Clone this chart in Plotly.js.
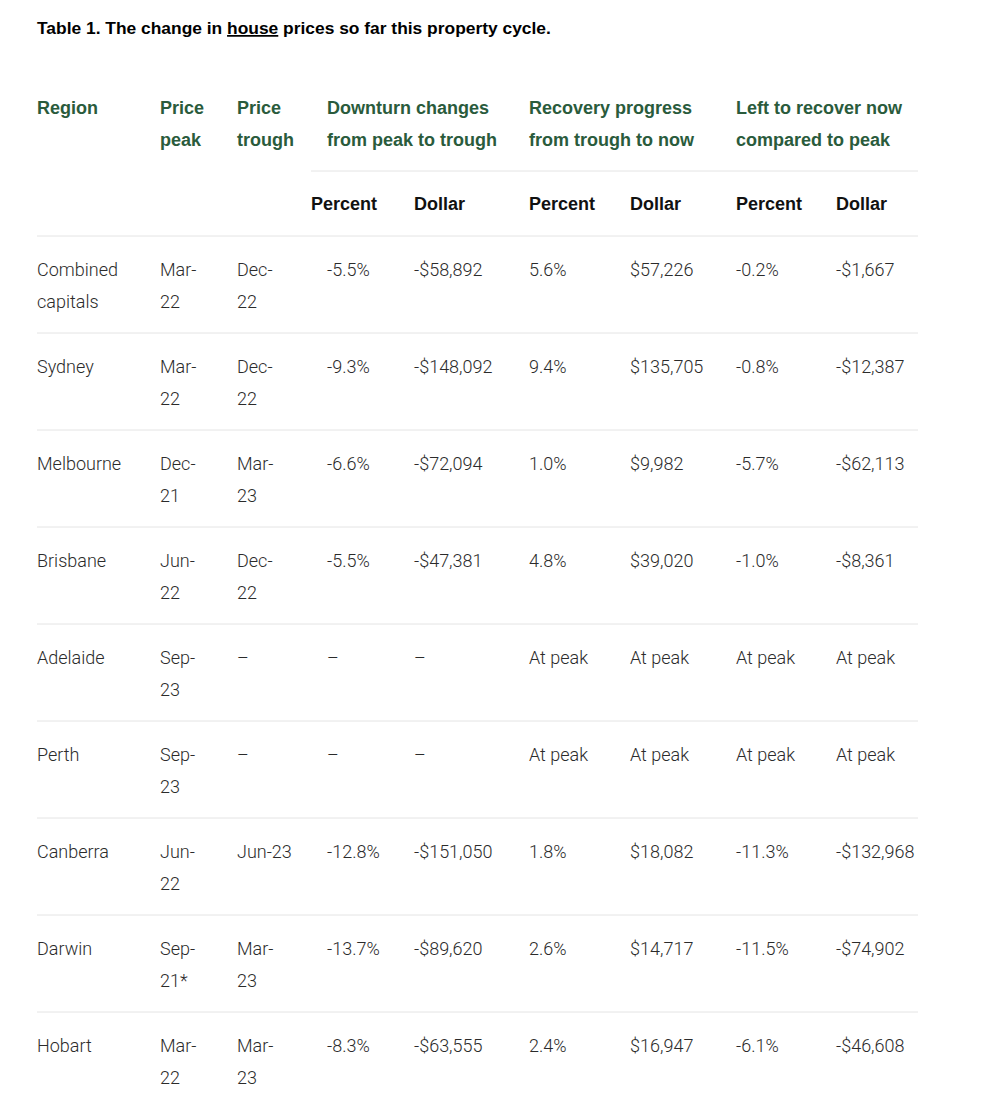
<!DOCTYPE html>
<html>
<head>
<meta charset="utf-8">
<script src="https://cdn.plot.ly/plotly-3.0.1.min.js"></script>
<style>body{margin:0;background:#fff;}</style>
</head>
<body>
<div id="table_1" style="width:986px;height:1100px;"></div>
<script>
TABLE = document.getElementById('table_1');

// table content, line breaks as they appear in the picture
var regions = ['Combined<br>capitals', 'Sydney', 'Melbourne', 'Brisbane', 'Adelaide', 'Perth', 'Canberra', 'Darwin', 'Hobart'];
var pricePeak = ['Mar-<br>22', 'Mar-<br>22', 'Dec-<br>21', 'Jun-<br>22', 'Sep-<br>23', 'Sep-<br>23', 'Jun-<br>22', 'Sep-<br>21*', 'Mar-<br>22'];
var priceTrough = ['Dec-<br>22', 'Dec-<br>22', 'Mar-<br>23', 'Dec-<br>22', '–', '–', 'Jun-23', 'Mar-<br>23', 'Mar-<br>23'];
var downPct = ['-5.5%', '-9.3%', '-6.6%', '-5.5%', '–', '–', '-12.8%', '-13.7%', '-8.3%'];
var downDollar = ['-$58,892', '-$148,092', '-$72,094', '-$47,381', '–', '–', '-$151,050', '-$89,620', '-$63,555'];
var recPct = ['5.6%', '9.4%', '1.0%', '4.8%', 'At peak', 'At peak', '1.8%', '2.6%', '2.4%'];
var recDollar = ['$57,226', '$135,705', '$9,982', '$39,020', 'At peak', 'At peak', '$18,082', '$14,717', '$16,947'];
var leftPct = ['-0.2%', '-0.8%', '-5.7%', '-1.0%', 'At peak', 'At peak', '-11.3%', '-11.5%', '-6.1%'];
var leftDollar = ['-$1,667', '-$12,387', '-$62,113', '-$8,361', 'At peak', 'At peak', '-$132,968', '-$74,902', '-$46,608'];

var groupHeaders = ['Region', 'Price<br>peak', 'Price<br>trough', 'Downturn changes<br>from peak to trough',
    'Recovery progress<br>from trough to now', 'Left to recover now<br>compared to peak'];
var subHeaders = ['Percent', 'Dollar', 'Percent', 'Dollar', 'Percent', 'Dollar'];

var title = 'Table 1. The change in <span style="text-decoration:underline">house</span> prices so far this property cycle.';

// layout (pixel units on both axes)
var colX = [37, 160, 237, 327, 414, 529, 630, 736, 836];
var groupX = [37, 160, 237, 327, 529, 736];
var subX = [311, 414, 529, 630, 736, 836];
var tableLeft = 37, tableRight = 918, groupLineLeft = 311;
var headTop = 109.5, subY = 205.5, groupLineY = 171;
var bodyTop = 236, rowH = 97, firstLine = 35.5, lineGap = 31.5;

var bodyFont = {family: 'Roboto, "Liberation Sans", Arial, sans-serif', size: 18, color: '#2b2b2b', weight: 300};
var groupFont = {family: '"Liberation Sans", Arial, sans-serif', size: 18, color: '#2a5b3c', weight: 700};
var subFont = {family: '"Liberation Sans", Arial, sans-serif', size: 18, color: '#111111', weight: 700};

function textTrace(cells, xs, ys, font) {
    var x = [], y = [], t = [];
    cells.forEach(function (cell, i) {
        cell.split('<br>').forEach(function (line, k) {
            x.push(xs[i]);
            y.push(ys[i] + k * lineGap);
            t.push(line);
        });
    });
    return {x: x, y: y, text: t, mode: 'text', type: 'scatter', textposition: 'middle right',
        textfont: font, hoverinfo: 'skip', cliponaxis: false};
}

var rowY = regions.map(function (r, i) { return bodyTop + i * rowH + firstLine; });
var columns = [regions, pricePeak, priceTrough, downPct, downDollar, recPct, recDollar, leftPct, leftDollar];

var data = columns.map(function (col, c) {
    return textTrace(col, col.map(function () { return colX[c]; }), rowY, bodyFont);
});
data.push(textTrace(groupHeaders, groupX, groupX.map(function () { return headTop; }), groupFont));
data.push(textTrace(subHeaders, subX, subX.map(function () { return subY; }), subFont));

var shapes = [{type: 'line', xref: 'x', yref: 'y', x0: groupLineLeft, x1: tableRight, y0: groupLineY, y1: groupLineY,
    line: {color: '#e4e4e4', width: 1}}];
for (var i = 0; i < regions.length; i++) {
    var yl = bodyTop + i * rowH;
    shapes.push({type: 'line', xref: 'x', yref: 'y', x0: tableLeft, x1: tableRight, y0: yl, y1: yl,
        line: {color: '#e4e4e4', width: 1}});
}

var layout = {
    width: 986,
    height: 1100,
    margin: {l: 0, r: 0, t: 0, b: 0},
    paper_bgcolor: '#ffffff',
    plot_bgcolor: '#ffffff',
    showlegend: false,
    hovermode: false,
    xaxis: {range: [0, 986], visible: false, fixedrange: true},
    yaxis: {range: [1100, 0], visible: false, fixedrange: true},
    shapes: shapes,
    annotations: [{
        text: '<b>' + title + '</b>',
        xref: 'x', yref: 'y', x: 35, y: 28,
        xanchor: 'left', yanchor: 'middle', showarrow: false,
        font: {family: '"Liberation Sans", Arial, sans-serif', size: 17.4, color: '#000000'}
    }]
};

Plotly.newPlot(TABLE, data, layout, {staticPlot: true});
</script>
</body>
</html>
